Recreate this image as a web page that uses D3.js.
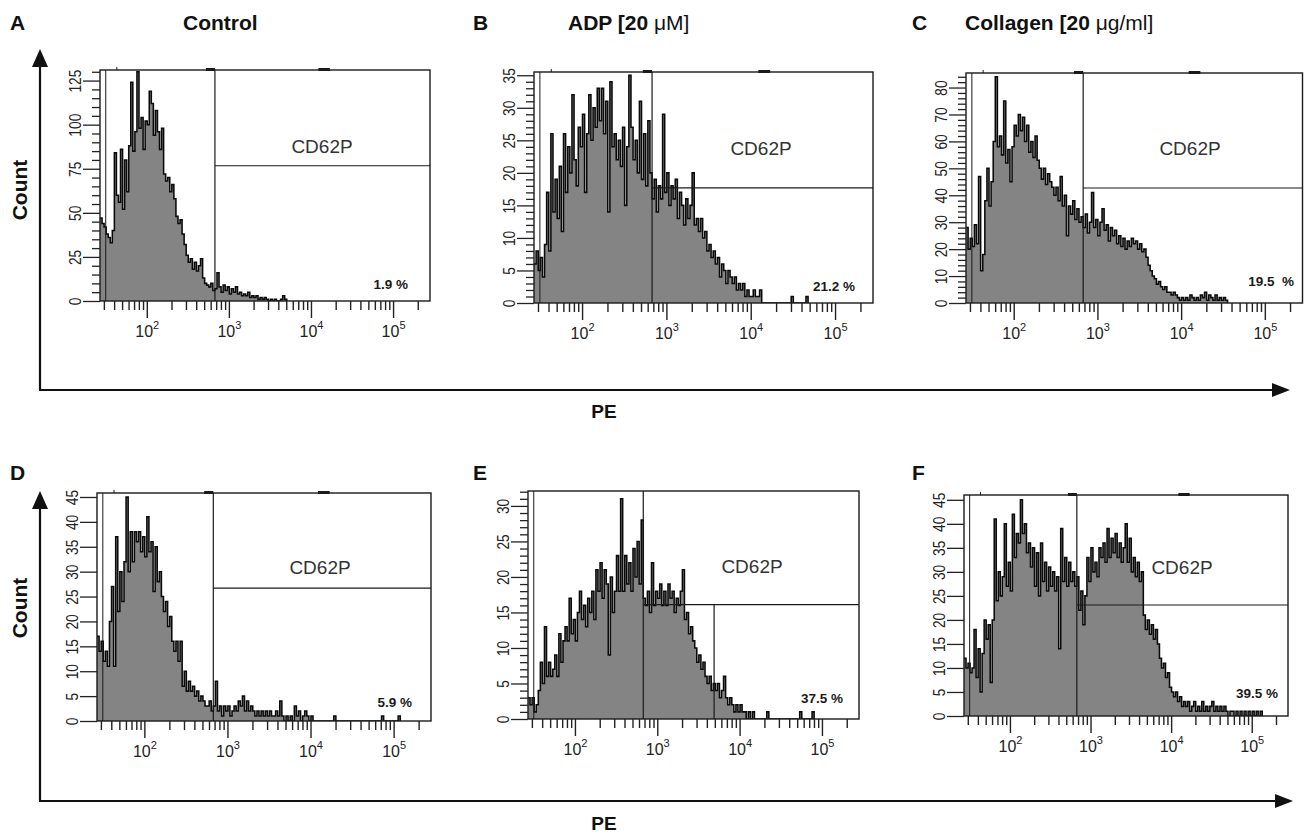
<!DOCTYPE html>
<html><head><meta charset="utf-8">
<script src="https://cdn.jsdelivr.net/npm/d3@7"></script>
<style>
html,body{margin:0;padding:0;background:#fff;}
svg{display:block;font-family:"Liberation Sans",Arial,Helvetica,sans-serif;}
</style></head><body>
<svg id="c" width="1304" height="834"></svg>
<script>
// ---------------- DATA ----------------
const panelLetters = ["A","B","C","D","E","F"];
const percentLabels = ["1.9 %","21.2 %","19.5  %","5.9 %","37.5 %","39.5 %"];
const gateLabel = "CD62P";
const yMax = [131, 35.5, 85.4, 45.8, 32.1, 46];
const yMajorStep = [25, 5, 10, 5, 5, 5];
const yMinorStep = [5, 1, 2, 0, 1, 0];
const gateLevel = [76.7, 17.7, 42.7, 26.7, 16.1, 23.1];
const gateFluor = 676;          // PE gate position
const eMarkerEnd = 4900;        // extra marker in panel E
const xMajorTicks = [100, 1000, 10000, 100000];
const xMajorExp = ["2","3","4","5"];
// histogram counts: bins of 0.025 decade starting at 10^1.43
const aCounts = [47,44,42,38,36,33,40,84,60,56,86,52,80,62,88,124,85,96,130,98,104,86,102,100,119,112,94,108,96,86,98,72,68,70,62,66,58,48,44,46,38,32,26,22,24,18,22,17,20,24,13,10,9,8,10,6,7,16,8,5,9,6,8,4,7,5,8,4,5,3,4,3,5,2,3,2,3,1,2,1,2,1,0,1,0,1,0,0,1,3,1];
const bCounts = [6,8,5,7,4,9,17,8,26,14,19,13,21,11,26,17,24,20,32,22,18,27,24,29,17,26,32,25,30,27,33,28,33,26,31,14,34,24,26,22,25,21,27,15,24,35,27,22,25,20,31,19,26,18,28,20,16,19,14,18,16,29,17,20,15,18,16,19,13,17,15,12,16,13,15,20,12,13,11,13,10,11,8,9,7,8,6,7,4,6,5,3,5,4,3,4,2,3,2,3,1,2,1,1,2,1,1,2];
const cCounts = [28,20,24,21,29,22,47,12,18,38,50,36,45,60,84,58,62,55,75,52,57,45,58,66,62,70,64,69,60,66,56,60,54,62,53,50,46,50,44,48,45,43,40,43,38,47,36,40,25,36,33,38,31,35,30,32,28,33,26,30,41,28,31,25,30,35,27,29,23,28,25,27,22,25,21,24,20,23,21,24,22,23,20,22,19,20,17,14,12,10,9,7,8,6,5,6,4,4,3,4,3,2,1,2,1,2,1,3,2,1,2,1,3,2,4,1,3,2,1,3,1,2,1,2,1];
const dCounts = [17,14,16,12,14,11,20,27,11,37,22,30,24,32,45,30,38,32,38,36,38,34,37,33,41,34,36,26,35,28,30,25,22,24,19,21,16,14,16,12,16,7,10,6,8,6,7,5,6,4,5,4,3,3,4,2,3,8,2,3,1,3,2,3,1,2,3,2,4,3,5,2,4,2,3,2,1,2,1,2,1,2,1,2,1,1,2,1,4,1,0,1,0,1,0,3,1,2,0,1,2,1,0,1];
const eCounts = [3,2,3,1,2,4,8,5,13,6,8,6,7,9,6,12,8,11,13,11,17,12,14,11,15,18,14,16,13,17,15,18,14,21,18,22,17,21,19,9,20,15,18,23,18,31,18,23,19,22,18,24,20,25,19,28,17,16,18,15,22,16,18,17,19,16,18,16,19,17,18,15,17,16,18,21,14,15,12,13,11,10,8,9,7,8,6,5,6,4,5,4,5,3,4,6,3,2,3,2,1,2,1,2,1,1,0,1,0,1];
const fCounts = [12,10,11,9,10,18,8,14,5,13,20,16,19,7,20,41,24,30,25,29,40,27,32,26,42,33,38,36,45,38,40,34,36,31,35,27,34,25,36,28,32,26,31,27,30,26,29,14,39,28,33,27,32,28,30,27,29,22,26,19,25,33,28,35,30,32,29,35,33,36,32,39,33,37,34,38,33,36,32,35,40,32,37,30,33,29,32,28,30,21,18,20,17,19,16,18,15,12,10,11,8,9,6,5,4,5,3,4,2,3,2,3,1,2,3,1,2,1,3,1,2,1,2,3,1,2,1,2,1,2,1,0,1,1,0,1,0,1,0,1,0,1,0,1,0,1,0,1];
// isolated high-channel events: [bin index, count]
const aTail = [];
const bTail = [[122,1],[129,1]];
const cTail = [];
const dTail = [[114,1],[137,1],[145,1]];
const eTail = [[116,1],[132,1],[138,1]];
const fTail = [];

// ---------------- LAYOUT ----------------
const allCounts = [aCounts,bCounts,cCounts,dCounts,eCounts,fCounts];
const allTails = [aTail,bTail,cTail,dTail,eTail,fTail];
const L0 = 1.43, L1 = 5.45, BIN = 0.025;
const boxes = [
  {x0:100,x1:430,yt:70,yb:301},
  {x0:534,x1:873,yt:72,yb:303},
  {x0:966,x1:1302.5,yt:73,yb:303},
  {x0:97,x1:431,yt:493,yb:721},
  {x0:528,x1:859,yt:491,yb:719},
  {x0:964,x1:1288,yt:495,yb:716}
];
const cdPos = [[322,153],[761,155],[1190,155],[320,574],[752,573],[1182,574]];
const pctPos = [[408,289],[855,291],[1294,286],[412,707],[843,703],[1278,698]];
const letterPos = [[10,30],[473,30],[912,30],[10,480],[473,480],[912,480]];
const topMarks = [true,true,true,true,false,true];

const svg = d3.select("#c");
const ink = "#1a1a1a";

function drawPanel(p){
  const b = boxes[p];
  const g = svg.append("g");
  const x = d3.scaleLog().domain([Math.pow(10,L0), Math.pow(10,L1)]).range([b.x0,b.x1]);
  const y = d3.scaleLinear().domain([0,yMax[p]]).range([b.yb,b.yt]);
  const counts = allCounts[p].slice();
  allTails[p].forEach(([i,v])=>{ while(counts.length<=i) counts.push(0); counts[i]=v; });
  const pts = counts.map((v,i)=>({e:Math.pow(10,L0+i*BIN), v:v}));
  pts.push({e:Math.pow(10,L0+counts.length*BIN), v:0});

  const cid = "clip"+p;
  svg.append("clipPath").attr("id",cid).append("rect")
    .attr("x",b.x0).attr("y",b.yt).attr("width",b.x1-b.x0).attr("height",b.yb-b.yt);

  g.append("path").datum(pts)
    .attr("d", d3.area().x(d=>x(d.e)).y0(b.yb).y1(d=>y(d.v)).curve(d3.curveStepAfter))
    .attr("fill","#848484").attr("clip-path","url(#"+cid+")");
  g.append("path").datum(pts)
    .attr("d", d3.line().x(d=>x(d.e)).y(d=>y(d.v)).curve(d3.curveStepAfter))
    .attr("fill","none").attr("stroke","#0a0a0a").attr("stroke-width",1.55)
    .attr("clip-path","url(#"+cid+")");

  // inner left marker
  const xi = x(Math.pow(10,1.50));
  g.append("line").attr("x1",xi).attr("x2",xi).attr("y1",b.yt).attr("y2",b.yb)
    .attr("stroke",ink).attr("stroke-width",1);
  // gate lines
  const xg = x(gateFluor);
  g.append("line").attr("x1",xg).attr("x2",xg).attr("y1",b.yt).attr("y2",b.yb)
    .attr("stroke",ink).attr("stroke-width",1.2);
  g.append("line").attr("x1",xg).attr("x2",b.x1).attr("y1",y(gateLevel[p])).attr("y2",y(gateLevel[p]))
    .attr("stroke",ink).attr("stroke-width",1.2);
  if(p===4){
    const xm = x(eMarkerEnd);
    g.append("line").attr("x1",xm).attr("x2",xm).attr("y1",y(gateLevel[p])).attr("y2",b.yb)
      .attr("stroke",ink).attr("stroke-width",1.2);
  }
  // box
  g.append("rect").attr("x",b.x0).attr("y",b.yt).attr("width",b.x1-b.x0).attr("height",b.yb-b.yt)
    .attr("fill","none").attr("stroke",ink).attr("stroke-width",1.4);
  if(topMarks[p]){
    [[2.72,2.83],[4.09,4.23]].forEach(([a,c])=>{
      g.append("rect").attr("x",x(Math.pow(10,a))).attr("y",b.yt-2)
        .attr("width",x(Math.pow(10,c))-x(Math.pow(10,a))).attr("height",3).attr("fill",ink);
    });
    const xs = x(Math.pow(10,1.635));
    g.append("line").attr("x1",xs).attr("x2",xs).attr("y1",b.yt-3).attr("y2",b.yt)
      .attr("stroke",ink).attr("stroke-width",1);
  }

  // x axis ticks
  const minorX = [];
  for(let d=1; d<=5; d++) for(let k=2;k<=9;k++){ const v=k*Math.pow(10,d); if(v>=Math.pow(10,L0) && v<=Math.pow(10,L1)) minorX.push(v); }
  const gxm = g.append("g").attr("transform","translate(0,"+b.yb+")")
    .call(d3.axisBottom(x).tickValues(minorX).tickSize(9).tickFormat(""));
  const gxM = g.append("g").attr("transform","translate(0,"+b.yb+")")
    .call(d3.axisBottom(x).tickValues(xMajorTicks).tickSize(17).tickFormat(""));
  [gxm,gxM].forEach(a=>{ a.select(".domain").remove(); a.selectAll("line").attr("stroke","#222").attr("stroke-width",1.4); });
  gxM.selectAll(".tick").each(function(d,i){
    const t = d3.select(this).append("text").attr("y",36).attr("text-anchor","middle")
      .attr("fill","#222").attr("font-size",16);
    t.append("tspan").text("10");
    t.append("tspan").attr("dy",-8).attr("font-size",11).text(xMajorExp[i]);
  });

  // y axis ticks
  const majors = d3.range(0, yMax[p]+1e-6, yMajorStep[p]);
  const minors = yMinorStep[p] ? d3.range(0, yMax[p], yMinorStep[p]).filter(v=>Math.abs(v/yMajorStep[p]-Math.round(v/yMajorStep[p]))>1e-6) : [];
  const gym = g.append("g").attr("transform","translate("+b.x0+",0)")
    .call(d3.axisLeft(y).tickValues(minors).tickSize(8).tickFormat(""));
  const gyM = g.append("g").attr("transform","translate("+b.x0+",0)")
    .call(d3.axisLeft(y).tickValues(majors).tickSize(17).tickFormat(""));
  [gym,gyM].forEach(a=>{ a.select(".domain").remove(); a.selectAll("line").attr("stroke","#222").attr("stroke-width",1.3); });
  gyM.selectAll(".tick").append("text")
    .attr("transform","translate(-19,0) rotate(-90) scale(0.86,1)").attr("text-anchor","middle")
    .attr("fill","#222").attr("font-size",16).text(d=>d);

  // labels
  g.append("text").attr("x",cdPos[p][0]).attr("y",cdPos[p][1]).attr("text-anchor","middle")
    .attr("font-size",19).attr("fill","#333").text(gateLabel);
  g.append("text").attr("x",pctPos[p][0]).attr("y",pctPos[p][1]).attr("text-anchor","end")
    .attr("font-size",13.5).attr("font-weight","bold").attr("fill","#1a1a1a")
    .style("white-space","pre").text(percentLabels[p]);
  svg.append("text").attr("x",letterPos[p][0]).attr("y",letterPos[p][1])
    .attr("font-size",21).attr("font-weight","bold").attr("fill","#111").text(panelLetters[p]);
}
for(let p=0;p<6;p++) drawPanel(p);

// titles
const t1 = svg.append("text").attr("x",183).attr("y",30).attr("font-size",21).attr("font-weight","bold").attr("fill","#111");
t1.text("Control");
const t2 = svg.append("text").attr("x",568).attr("y",30).attr("font-size",21).attr("fill","#111").style("white-space","pre");
t2.append("tspan").attr("font-weight","bold").text("ADP [20 ");
t2.append("tspan").text("\u03bcM]");
const t3 = svg.append("text").attr("x",965).attr("y",30).attr("font-size",21).attr("fill","#111").style("white-space","pre");
t3.append("tspan").attr("font-weight","bold").text("Collagen [20 ");
t3.append("tspan").text("\u03bcg/ml]");

// outer axes arrows
function frame(yLine, yTip, xTip, countY, peY){
  svg.append("line").attr("x1",40).attr("x2",40).attr("y1",yLine).attr("y2",yTip+14)
    .attr("stroke","#111").attr("stroke-width",2.2);
  svg.append("polygon").attr("points",[[40,yTip],[32,yTip+18],[48,yTip+18]].join(" ")).attr("fill","#111");
  svg.append("line").attr("x1",39).attr("x2",xTip-14).attr("y1",yLine).attr("y2",yLine)
    .attr("stroke","#111").attr("stroke-width",2.2);
  svg.append("polygon").attr("points",[[xTip,yLine],[xTip-18,yLine-7],[xTip-18,yLine+7]].join(" ")).attr("fill","#111");
  svg.append("text").attr("transform","translate(27,"+countY+") rotate(-90)").attr("text-anchor","middle")
    .attr("font-size",21).attr("font-weight","bold").attr("fill","#111").text("Count");
  svg.append("text").attr("x",604).attr("y",peY).attr("text-anchor","middle")
    .attr("font-size",19).attr("font-weight","bold").attr("fill","#111").text("PE");
}
frame(390, 49, 1290, 190, 418);
frame(801, 491, 1293, 608, 830);
</script>
</body></html>
